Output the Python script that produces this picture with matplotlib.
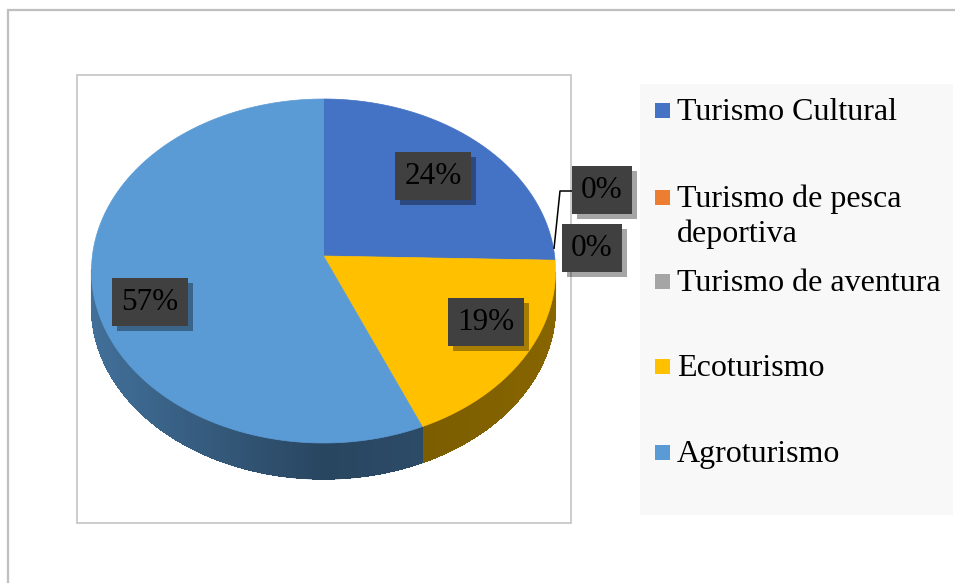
import numpy as np
import matplotlib.pyplot as plt
from matplotlib.patches import Polygon, Rectangle
import matplotlib.patheffects as pe
import matplotlib.colors as mcolors

plt.rcParams['font.family'] = ['Liberation Serif', 'DejaVu Serif']

# data
categories = ['Turismo Cultural', 'Turismo de pesca\ndeportiva', 'Turismo de aventura',
              'Ecoturismo', 'Agroturismo']
percent = [24, 0, 0, 19, 57]
colors = ['#4472C4', '#ED7D31', '#A5A5A5', '#FFC000', '#5B9BD5']
pct_labels = ['24%', '0%', '0%', '19%', '57%']

# layout (pixels, y down)
cx, cy, rx, ry = 323.5, 271, 232, 172
apex_y = 256
depth = 36
label_pos = [(433, 176), (602, 190), (592, 248), (486, 322), (150, 302)]

fig = plt.figure(figsize=(9.55, 5.83), dpi=100)
ax = fig.add_axes([0, 0, 1, 1])
ax.set_xlim(0, 955)
ax.set_ylim(583, 0)
ax.axis('off')

# frames
ax.add_patch(Rectangle((8, 10), 960, 590, fc='white', ec='#BFBFBF', lw=1.6, zorder=0))
ax.add_patch(Rectangle((77, 75), 494, 448, fc='white', ec='#C8C8C8', lw=1.3, zorder=1))


def pt(theta, dy=0.0):
    return cx + rx * np.cos(theta), cy - ry * np.sin(theta) + dy


def shade(theta):
    return 0.45 + 0.27 * max(0, -np.cos(theta)) + 0.08 * max(0, np.cos(theta))


total = float(sum(percent))
cum = np.concatenate([[0], np.cumsum(percent)]) / total
starts = np.radians(90 - 360 * cum[:-1])
ends = np.radians(90 - 360 * cum[1:])

# side walls (front half only)
for i in range(len(percent)):
    if percent[i] == 0:
        continue
    th = np.linspace(starts[i], ends[i], int(abs(np.degrees(ends[i] - starts[i]))) + 2)
    th = th[np.sin(th) <= 0.01]
    if len(th) < 2:
        continue
    base = np.array(mcolors.to_rgb(colors[i]))
    # smooth outline underneath
    xs, ys = pt(th)
    xb, yb = pt(th[::-1], depth)
    mid = np.clip(base * shade(th[len(th) // 2]), 0, 1)
    ax.add_patch(Polygon(list(zip(xs, ys)) + list(zip(xb, yb)), closed=True,
                         fc=mid, ec=mid, lw=0.8, zorder=2))
    for a, b in zip(th[:-1], th[1:]):
        c = np.clip(base * shade(0.5 * (a + b)), 0, 1)
        p1, p2 = pt(a), pt(b)
        p3, p4 = pt(b, depth), pt(a, depth)
        ax.add_patch(Polygon([p1, p2, p3, p4], closed=True, fc=c, ec=c, lw=0.3,
                             antialiased=False, zorder=2.1))

# top faces
for i in range(len(percent)):
    if percent[i] == 0:
        continue
    th = np.linspace(starts[i], ends[i], 200)
    xs, ys = pt(th)
    verts = [(cx, apex_y)] + list(zip(xs, ys))
    ax.add_patch(Polygon(verts, closed=True, fc=colors[i], ec=colors[i], lw=0.5, zorder=3))

# leader line for the zero slices
ex, ey = pt(starts[1])
ax.plot([ex - 1, 560, 572], [ey - 12, 191, 191], color='black', lw=1.1, zorder=4)

# data labels
for (lx, ly), s in zip(label_pos, pct_labels):
    t = ax.text(lx, ly, s, fontsize=22.5, color='black', ha='center', va='center', zorder=6,
                bbox=dict(boxstyle='square,pad=0.3', fc='#404040', ec='none'))
    t.get_bbox_patch().set_path_effects([
        pe.SimplePatchShadow(offset=(3.5, -3.5), shadow_rgbFace='black', alpha=0.35),
        pe.Normal()])

# legend
ax.add_patch(Rectangle((640, 84), 313, 431, fc='#F8F8F8', ec='none', zorder=1))
legend_base = [120, 207, 291, 376, 462]
for lbl, col, yb in zip(categories, colors, legend_base):
    ax.add_patch(Rectangle((655, yb - 17), 15, 15, fc=col, ec='none', zorder=5))
    for k, line in enumerate(lbl.split('\n')):
        ax.text(677, yb + 35 * k, line, fontsize=23, color='black', ha='left', va='baseline',
                zorder=5)

fig.savefig('out.png', dpi=100)
